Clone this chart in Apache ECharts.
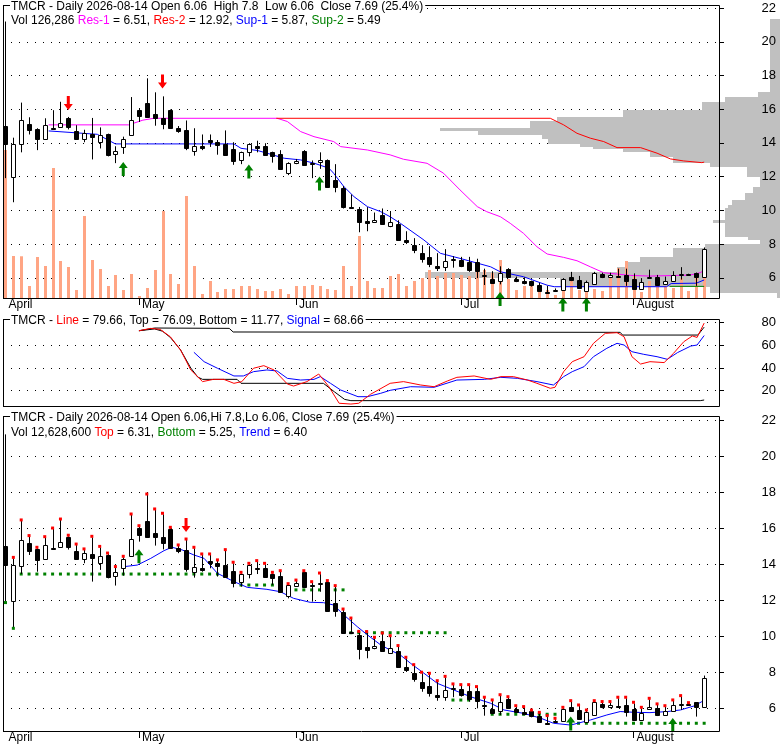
<!DOCTYPE html>
<html>
<head>
<meta charset="utf-8">
<script src="https://cdn.jsdelivr.net/npm/echarts@6/dist/echarts.min.js"></script>
<style>
html, body { margin: 0; padding: 0; background: #fff; }
#main { width: 780px; height: 745px; }
</style>
</head>
<body>
<div id="main"></div>
<script>
// daily prices, index 0 = first day shown (early April)
var opens = [15.0, 11.96, 13.91, 15.15, 14.83, 14.26, 14.91, 14.96, 15.5, 14.72,
    14.26, 14.55, 14.04, 14.5, 13.35, 13.76, 14.46, 15.98, 16.39, 15.7,
    15.48, 15.93, 14.91, 14.78, 13.54, 13.79, 14.15, 14.04, 13.94, 13.61,
    12.98, 13.44, 13.79, 13.79, 13.44, 13.35, 12.24, 12.79, 13.54, 12.83,
    12.89, 12.98, 11.81, 11.31, 10.22, 10.06, 9.37, 9.31, 9.72, 9.07,
    9.17, 8.26, 7.96, 7.46, 7.22, 6.72, 6.63, 7.05, 7.05, 6.94,
    6.94, 6.17, 5.93, 5.83, 6.5, 5.93, 5.8, 5.83, 5.55, 5.15,
    5.24, 5.28, 6.07, 5.89, 5.2, 5.61, 6.22, 6.04, 6.13, 6.17,
    5.93, 5.33, 5.96, 6.02, 5.61, 5.83, 6.2, 6.22, 6.31, 6.06];
var closes = [13.94, 13.94, 15.33, 14.74, 14.22, 15.06, 14.81, 15.2, 14.93, 14.26,
    14.59, 14.35, 14.44, 13.29, 13.54, 14.26, 15.37, 15.61, 15.52, 15.48,
    15.15, 14.87, 14.72, 13.7, 13.81, 13.67, 14.04, 13.89, 13.26, 12.93,
    13.44, 13.94, 13.7, 13.26, 13.2, 12.46, 12.83, 12.92, 12.7, 12.79,
    12.96, 11.41, 11.41, 10.19, 10.15, 9.29, 9.22, 9.44, 9.19, 9.31,
    8.26, 8.11, 7.63, 7.13, 6.81, 6.59, 7.0, 7.13, 6.72, 6.48,
    6.41, 6.11, 5.7, 6.31, 6.02, 5.8, 5.67, 5.57, 5.22, 5.11,
    5.3, 5.93, 5.85, 5.37, 5.76, 6.31, 6.04, 6.17, 6.09, 5.78,
    5.31, 5.74, 6.07, 5.59, 5.83, 6.17, 6.24, 6.24, 6.04, 7.69];
var lows = [11.91, 10.48, 13.44, 14.5, 13.57, 14.26, 14.78, 14.96, 14.8, 14.22,
    14.04, 13.02, 13.67, 13.2, 12.8, 13.35, 14.46, 15.24, 15.52, 15.02,
    14.81, 14.87, 14.6, 13.57, 13.24, 13.57, 13.76, 13.3, 13.26, 12.7,
    12.74, 13.2, 13.44, 13.26, 12.83, 12.46, 12.09, 12.74, 12.7, 11.91,
    12.46, 11.41, 11.07, 10.11, 10.11, 8.7, 8.76, 9.26, 9.19, 9.0,
    8.26, 8.0, 7.46, 6.9, 6.63, 6.4, 6.4, 6.6, 6.63, 6.35,
    5.98, 5.57, 5.65, 5.61, 5.98, 5.74, 5.61, 5.48, 5.18, 5.09,
    5.18, 5.24, 5.8, 5.33, 5.2, 5.57, 5.98, 5.98, 6.07, 5.52,
    5.31, 5.3, 5.96, 5.55, 5.57, 5.83, 5.89, 6.13, 5.52, 6.06];
var highs = [21.2, 14.31, 16.39, 15.52, 14.87, 15.46, 15.94, 16.44, 15.54, 15.05,
    14.78, 15.48, 14.92, 14.55, 13.8, 14.37, 16.72, 16.07, 17.83, 17.0,
    16.76, 15.98, 15.0, 15.33, 14.87, 14.5, 14.5, 14.17, 14.74, 14.04,
    13.48, 13.98, 14.13, 13.98, 13.48, 13.57, 12.85, 13.05, 13.57, 12.96,
    13.44, 13.02, 12.74, 11.44, 10.94, 10.2, 10.19, 9.87, 10.11, 9.96,
    9.41, 8.76, 8.35, 7.93, 7.87, 7.46, 7.7, 7.28, 7.24, 7.24,
    7.13, 6.54, 6.39, 6.68, 6.57, 6.07, 6.02, 5.83, 5.7, 5.52,
    5.37, 5.98, 6.35, 6.11, 5.83, 6.35, 6.3, 6.3, 6.54, 6.54,
    6.26, 5.98, 6.48, 6.17, 6.07, 6.39, 6.63, 6.24, 6.31, 7.8];
var volumes = [849520, 241080, 239500, 68880, 235340, 183680, 746200, 212380, 177940, 45920,
    470680, 218120, 166460, 68880, 132020, 45920, 137760, 11480, 57400, 160720,
    499380, 137760, 80360, 585480, 183680, 22960, 97580, 34440, 51660, 51660,
    68880, 68880, 51660, 40180, 40180, 51660, 22960, 68880, 68880, 74620,
    68880, 51660, 45920, 183680, 68880, 355880, 97580, 57400, 57400, 126280,
    137760, 68880, 97580, 114800, 160720, 126280, 143500, 143500, 132020, 126280,
    160720, 160720, 143500, 218120, 109060, 45920, 68880, 68880, 40180, 45920,
    17220, 40180, 114800, 45920, 40180, 51660, 40180, 114800, 172200, 212380,
    126280, 34440, 97580, 68880, 68880, 57400, 114800, 40180, 114800, 126286];

var monthTicks = [0, 17, 37, 58, 80];
var monthLabels = ['April', 'May', 'Jun', 'Jul', 'August'];

// upper panel levels [day, price]
var res1 = [[5.5, 15.07], [15.7, 15.07], [17.5, 15.35], [18.9, 15.46], [34.6, 15.46], [35.9, 15.27],
    [37.6, 14.67], [39.3, 14.37], [41.8, 14.08], [42.7, 13.78], [46.1, 13.58], [49, 13.29],
    [50.7, 13.03], [53.7, 12.79], [55.8, 12.2], [57.9, 11.21], [60.1, 10.22], [61.3, 9.92],
    [63.05, 9.62], [64.3, 9.23], [66, 8.63], [67.7, 7.84], [69, 7.41], [71.1, 7.21], [72.8, 7.01],
    [74.5, 6.65], [76.2, 6.3], [77.9, 6.22], [79.6, 6.14], [82.1, 6.1], [87.2, 6.16], [88.5, 6.3], [89, 6.45]];
var res2 = [[34.5, 15.46], [69.4, 15.46], [71.1, 15.07], [72.8, 14.57], [74.5, 14.28], [76.2, 14.08],
    [77.9, 13.72], [80.9, 13.72], [83, 13.39], [84.7, 13.05], [86.4, 12.93], [88.7, 12.83], [89, 12.86]];
var sup1 = [[5.5, 14.71], [11.7, 14.51], [14, 13.94], [29.1, 13.94], [30, 13.68], [32.1, 13.55],
    [33.3, 13.39], [35.5, 13.09], [37.6, 12.99], [39.3, 12.8], [41.2, 12.5], [41.8, 12.2], [43.1, 11.41],
    [44.4, 10.81], [46.1, 10.22], [47.8, 9.92], [49, 9.62], [50.3, 9.23], [53.3, 8.24], [55.4, 7.45],
    [57.9, 7.15], [61.8, 6.65], [63, 6.36], [66, 6.06], [69, 5.56], [69.9, 5.47], [84.2, 5.47],
    [84.8, 5.66], [88, 5.68], [89, 5.87]];
var sup2 = [[84.6, 5.49], [89, 5.49]];

// volume at price, [price top, price bottom, amount]
var profile = [[21.35, 17.02, 10], [17.02, 16.72, 22], [16.72, 16.43, 55], [16.43, 15.95, 78],
    [15.95, 15.54, 157], [15.54, 15.30, 223], [15.30, 14.88, 250], [14.88, 14.71, 340],
    [14.71, 14.47, 302], [14.47, 14.23, 238], [14.23, 13.93, 232], [13.93, 13.76, 200],
    [13.76, 13.64, 187], [13.64, 13.46, 157], [13.46, 13.16, 130], [13.16, 12.81, 107],
    [12.81, 12.57, 70], [12.57, 11.98, 33], [11.98, 11.38, 20], [11.38, 11.03, 27],
    [11.03, 10.61, 35], [10.61, 10.32, 48], [10.32, 10.14, 52], [10.14, 9.43, 55],
    [9.43, 9.25, 67], [9.25, 8.42, 55], [8.42, 8.24, 32], [8.24, 8.00, 20],
    [8.00, 7.77, 75], [7.77, 7.23, 107], [7.23, 6.94, 140], [6.94, 6.64, 155],
    [6.64, 6.34, 163], [6.34, 5.99, 355], [5.99, 5.45, 220], [5.45, 5.10, 70], [5.10, 4.80, 3]];

var topDownArrows = [[8, 16.37], [20, 17.64]];
var topUpArrows = [[15, 12.45], [31, 12.3], [40, 11.59], [63, 4.74], [71, 4.41], [74, 4.41]];

// oscillator
var oscTop = [[17, 72.9], [19, 75.3], [28.5, 75.0], [29, 71.8], [78.3, 71.5], [78.6, 69.1], [88.2, 69.1], [89, 76.09]];
var oscBottom = [[17, 72.9], [19, 74.5], [20, 72.5], [21, 67], [22.3, 56], [23.6, 40], [24.5, 32], [25.1, 30],
    [29.5, 30], [30, 26.5], [40.5, 26.5], [41.9, 19], [43.2, 12.3], [44, 11.2], [88.5, 11.2], [89, 11.77]];
var oscLine = [[17, 72.9], [18.5, 75.0], [19.7, 74.1], [21, 67.6], [22.3, 55.9], [23.6, 38.3], [25.1, 28.0],
    [26.5, 30.0], [27.8, 30.0], [29.1, 26.5], [30.1, 28.0], [31.6, 39.8], [32.9, 42.1], [34.2, 38.3],
    [35.9, 25.9], [36.7, 24.1], [38.4, 28.0], [39.9, 34.7], [41.2, 23.5], [42.5, 8.9], [44, 8.2], [45, 8.9],
    [46.5, 16.8], [49, 26.5], [50.7, 28.0], [52.9, 25.0], [54.6, 23.5], [56.3, 28.6], [57.5, 31.8],
    [59.7, 33.0], [61.8, 30.0], [63.1, 32.4], [64.7, 32.4], [66.5, 29.4], [67.7, 26.5], [69.4, 22.1],
    [70, 23], [71.1, 36.8], [72.2, 45.6], [73.7, 50.0], [74.9, 61.8], [76.4, 70.6], [77.9, 71.2],
    [78.8, 67.6], [79.8, 50.0], [80.9, 43.5], [82.1, 45.6], [83.9, 44.8], [85.1, 53.0], [86.4, 63.2],
    [87.5, 68.3], [88.1, 67], [89, 79.66]];
var oscSignal = [[24, 53.9], [25.3, 45.6], [27, 39.8], [29.1, 33.0], [30.3, 33.0], [31.6, 36.8], [33.3, 38.3],
    [34.6, 37.4], [35.9, 30.9], [37.6, 29.4], [39.3, 30.0], [40.1, 32.4], [41.4, 26.5], [42.7, 20.6],
    [44.9, 14.7], [46.1, 14.7], [47.8, 17.7], [49, 20.3], [51.6, 23.5], [54.6, 23], [57.5, 29.4],
    [61, 30.0], [63.1, 31.8], [65.2, 30.9], [67.7, 28.0], [69.8, 25.0], [71.1, 32.4], [72.2, 36.8],
    [73.7, 41.2], [74.9, 50.0], [76.6, 57.4], [77.9, 61.8], [78.8, 60.3], [79.8, 54.4], [81.3, 52.1],
    [83, 50.0], [84.3, 47.7], [85.6, 53.6], [87.3, 59.4], [88.1, 60.3], [89, 68.66]];

// lower panel
var trend = [[15.1, 13.85], [16.8, 13.94], [18.5, 14.31], [20.2, 14.74], [21.2, 14.93], [22.5, 14.78],
    [24, 14.5], [25.3, 14.31], [27, 13.48], [29.1, 13.02], [30.8, 12.7], [33.3, 12.59], [35, 12.46],
    [36.7, 12.09], [38.8, 11.87], [40.5, 11.85], [41.8, 11.72], [43.1, 11.17], [44.8, 10.52],
    [46.1, 10.06], [47.8, 9.5], [49, 9.22], [50.3, 8.94], [51.6, 8.48], [53.3, 7.93], [55, 7.37],
    [57.1, 7.0], [59.2, 6.63], [61.8, 6.26], [63.5, 5.89], [66, 5.7], [68.2, 5.43], [69.8, 5.15],
    [72, 5.05], [74.5, 5.33], [76.6, 5.61], [78.3, 5.8], [80, 5.76], [82.1, 5.74], [84.3, 5.8],
    [86, 5.89], [87.7, 6.11], [88.7, 6.35], [89, 6.4]];
// bottom levels: [first day, last day, price]
var bottomLevels = [[2, 27, 13.44], [30, 34, 12.83], [37, 43, 12.56], [44, 56, 10.18],
    [57, 59, 6.44], [62, 70, 5.65], [72, 89, 5.15]];
var topMarkDays = [1, 87];
var lowMarkDays = [0, 1];
var lowUpArrows = [[17, 14.43], [72, 5.13], [85, 5.06]];
var lowDownArrows = [[23, 16.16]];

var FONT = 'Liberation Sans';
var UP_PATH = 'path://M4.5,0L9,6L6,6L6,14L3,14L3,6L0,6Z';
var DOWN_PATH = 'path://M3,0L6,0L6,8L9,8L4.5,14L0,8L3,8Z';

var candles = opens.map(function (o, i) { return [i, o, closes[i], lows[i], highs[i]]; });
var volData = volumes.map(function (v, i) { return [i, v]; });
var topMarks = highs.map(function (h, i) { return [i, h]; })
    .filter(function (d) { return d[0] >= topMarkDays[0] && d[0] <= topMarkDays[1]; });
var lowMarks = lowMarkDays.map(function (i) { return [i, lows[i]]; });
var levelDots = [];
bottomLevels.forEach(function (s) {
    for (var i = s[0]; i <= s[1]; i++) levelDots.push([i, s[2]]);
});

function renderCandle(params, api) {
    var i = api.value(0), o = api.value(1), c = api.value(2);
    var pO = api.coord([i, o]), pC = api.coord([i, c]);
    var pL = api.coord([i, api.value(3)]), pH = api.coord([i, api.value(4)]);
    var x = Math.round(pO[0]) + 0.5;
    var top = Math.round(Math.min(pO[1], pC[1])) + 0.5;
    var bot = Math.round(Math.max(pO[1], pC[1])) + 0.5;
    if (bot - top < 1) bot = top + 1;
    return {
        type: 'group',
        children: [
            { type: 'line', shape: { x1: x, y1: pH[1], x2: x, y2: pL[1] }, style: { stroke: '#000', lineWidth: 1 } },
            { type: 'rect', shape: { x: x - 2, y: top, width: 4, height: bot - top },
              style: { fill: c > o ? '#fff' : '#000', stroke: '#000', lineWidth: 1 } }
        ]
    };
}

function renderVol(params, api) {
    var p0 = api.coord([api.value(0), 0]);
    var p1 = api.coord([api.value(0), api.value(1)]);
    var x = Math.round(p0[0]) - 1;
    return { type: 'rect', shape: { x: x, y: p1[1], width: 3, height: p0[1] - p1[1] }, style: { fill: '#ffa584' } };
}

function renderProfile(params, api) {
    var a = api.coord([0, api.value(0)]);
    var b = api.coord([api.value(2), api.value(1)]);
    var y0 = Math.round(a[1]), y1 = Math.round(b[1]);
    return { type: 'rect', shape: { x: b[0], y: y0, width: a[0] - b[0], height: y1 - y0 }, style: { fill: '#c0c0c0' } };
}

function monthName(v) {
    var k = monthTicks.indexOf(Math.round(v));
    return k < 0 ? '' : monthLabels[k];
}

function dayAxis(grid, labels) {
    return {
        type: 'value', gridIndex: grid, min: -0.318, max: 90.89, show: labels,
        axisLine: { show: false },
        splitLine: { show: false },
        axisTick: { show: labels, customValues: monthTicks.slice(1), length: 7, lineStyle: { color: '#000' } },
        axisLabel: { show: labels, customValues: monthTicks, formatter: monthName, align: 'left', margin: 1,
            padding: [0, 0, 0, 3], color: '#000', fontSize: 12, fontFamily: FONT }
    };
}

function splitAxis(grid, min, max, step) {
    return {
        type: 'value', gridIndex: grid, min: min, max: max, position: 'right',
        minInterval: step, maxInterval: step, splitNumber: Math.round((max - min) / step),
        axisLine: { show: false }, axisTick: { show: false }, axisLabel: { show: false },
        splitLine: { show: true, lineStyle: { color: '#000', width: 1, type: [1, 7] } }
    };
}

function labelAxis(grid, min, max, step) {
    return {
        type: 'value', gridIndex: grid, min: min, max: max, position: 'right', z: 10,
        minInterval: step, maxInterval: step, splitNumber: Math.round((max - min) / step),
        axisLine: { show: false }, splitLine: { show: false },
        axisTick: { show: true, length: 5, lineStyle: { color: '#000' } },
        axisLabel: { align: 'right', margin: 57, color: '#000', fontSize: 13, fontFamily: FONT,
            showMinLabel: false, showMaxLabel: false }
    };
}

function lineSeries(data, color, x, y, z) {
    return { type: 'line', data: data, xAxisIndex: x, yAxisIndex: y, z: z || 3, symbol: 'none',
        lineStyle: { color: color, width: 1 }, silent: true };
}

function arrowSeries(data, up, color, x, y) {
    return { type: 'scatter', data: data, xAxisIndex: x, yAxisIndex: y, z: 8, clip: false,
        symbol: up ? UP_PATH : DOWN_PATH, symbolSize: [9, 14], itemStyle: { color: color, opacity: 1 }, silent: true };
}

var rich = {
    k: { color: '#000', fontSize: 12, fontFamily: FONT, lineHeight: 13 },
    m: { color: '#ff00ff', fontSize: 12, fontFamily: FONT, lineHeight: 13 },
    r: { color: '#ff0000', fontSize: 12, fontFamily: FONT, lineHeight: 13 },
    b: { color: '#0000ff', fontSize: 12, fontFamily: FONT, lineHeight: 13 },
    g: { color: '#008000', fontSize: 12, fontFamily: FONT, lineHeight: 13 }
};
function header(text, top) {
    return { text: text, left: 10, top: top, z: 30, backgroundColor: '#fff', padding: [0, 2, 0, 1],
        textStyle: { fontSize: 12, fontFamily: FONT, fontWeight: 'normal', color: '#000', lineHeight: 13, rich: rich } };
}

function frame(y, h) {
    return { type: 'rect', shape: { x: 3.5, y: y + 0.5, width: 716, height: h }, z: 20, silent: true,
        style: { fill: 'transparent', stroke: '#000', lineWidth: 1 } };
}

var mychart = echarts.init(document.getElementById('main'));
var option = {
    animation: false,
    backgroundColor: '#fff',
    title: [
        header('{k|TMCR - Daily 2026-08-14 Open 6.06  High 7.8  Low 6.06  Close 7.69 (25.4%)}', 0),
        header('{k|Vol 126,286 }{m|Res-1}{k| = 6.51, }{r|Res-2}{k| = 12.92, }{b|Sup-1}{k| = 5.87, }{g|Sup-2}{k| = 5.49}', 14),
        header('{k|TMCR - }{r|Line}{k| = 79.66, Top = 76.09, Bottom = 11.77, }{b|Signal}{k| = 68.66}', 314),
        header('{k|TMCR - Daily 2026-08-14 Open 6.06,Hi 7.8,Lo 6.06, Close 7.69 (25.4%)}', 411),
        header('{k|Vol 12,628,600 }{r|Top}{k| = 6.31, }{g|Bottom}{k| = 5.25, }{b|Trend}{k| = 6.40}', 426)
    ],
    grid: [
        { left: 3, top: 5, width: 716, height: 293 },
        { left: 420, top: 5, width: 360, height: 293 },
        { left: 3, top: 319, width: 716, height: 87 },
        { left: 3, top: 416, width: 716, height: 315 }
    ],
    xAxis: [
        dayAxis(0, true),
        { type: 'value', gridIndex: 1, min: 0, max: 360, inverse: true, show: false },
        dayAxis(2, false),
        dayAxis(3, true)
    ],
    yAxis: [
        splitAxis(0, 4.8, 22.18, 2),
        labelAxis(0, 4.8, 22.18, 2),
        { type: 'value', gridIndex: 0, min: 0, max: 1681820, show: false },
        { type: 'value', gridIndex: 1, min: 4.8, max: 22.18, show: false },
        splitAxis(2, 6.48, 83.27, 20),
        labelAxis(2, 6.48, 83.27, 20),
        splitAxis(3, 4.72, 22.22, 2),
        labelAxis(3, 4.72, 22.22, 2)
    ],
    graphic: [frame(5, 293), frame(319, 87), frame(416, 315)],
    series: [
        { type: 'custom', xAxisIndex: 1, yAxisIndex: 3, z: 1, data: profile, renderItem: renderProfile,
          encode: { x: 2, y: [0, 1] }, silent: true },
        { type: 'custom', xAxisIndex: 0, yAxisIndex: 2, z: 2, data: volData, renderItem: renderVol,
          encode: { x: 0, y: 1 }, silent: true },
        lineSeries(res1, '#ff00ff', 0, 0),
        lineSeries(res2, '#ff0000', 0, 0),
        lineSeries(sup2, '#008000', 0, 0),
        lineSeries(sup1, '#0000ff', 0, 0),
        { type: 'custom', xAxisIndex: 0, yAxisIndex: 0, z: 5, data: candles, renderItem: renderCandle,
          encode: { x: 0, y: [1, 2, 3, 4] }, silent: true },
        arrowSeries(topDownArrows, false, '#ff0000', 0, 0),
        arrowSeries(topUpArrows, true, '#008000', 0, 0),

        lineSeries(oscTop, '#000', 2, 4),
        lineSeries(oscBottom, '#000', 2, 4),
        lineSeries(oscSignal, '#0000ff', 2, 4),
        lineSeries(oscLine, '#ff0000', 2, 4),

        { type: 'scatter', xAxisIndex: 3, yAxisIndex: 6, z: 2, data: levelDots, symbol: 'rect', symbolSize: 3,
          itemStyle: { color: '#008000', opacity: 1 }, silent: true },
        lineSeries(trend, '#0000ff', 3, 6),
        { type: 'custom', xAxisIndex: 3, yAxisIndex: 6, z: 5, data: candles, renderItem: renderCandle,
          encode: { x: 0, y: [1, 2, 3, 4] }, silent: true },
        { type: 'scatter', xAxisIndex: 3, yAxisIndex: 6, z: 6, data: topMarks, symbol: 'rect', symbolSize: 3,
          symbolOffset: [0, -1], itemStyle: { color: '#ff0000', opacity: 1 }, silent: true },
        { type: 'scatter', xAxisIndex: 3, yAxisIndex: 6, z: 6, data: lowMarks, symbol: 'rect', symbolSize: 3,
          symbolOffset: [0, 1], itemStyle: { color: '#008000', opacity: 1 }, silent: true },
        arrowSeries(lowUpArrows, true, '#008000', 3, 6),
        arrowSeries(lowDownArrows, false, '#ff0000', 3, 6)
    ]
};
mychart.setOption(option);
</script>
</body>
</html>
